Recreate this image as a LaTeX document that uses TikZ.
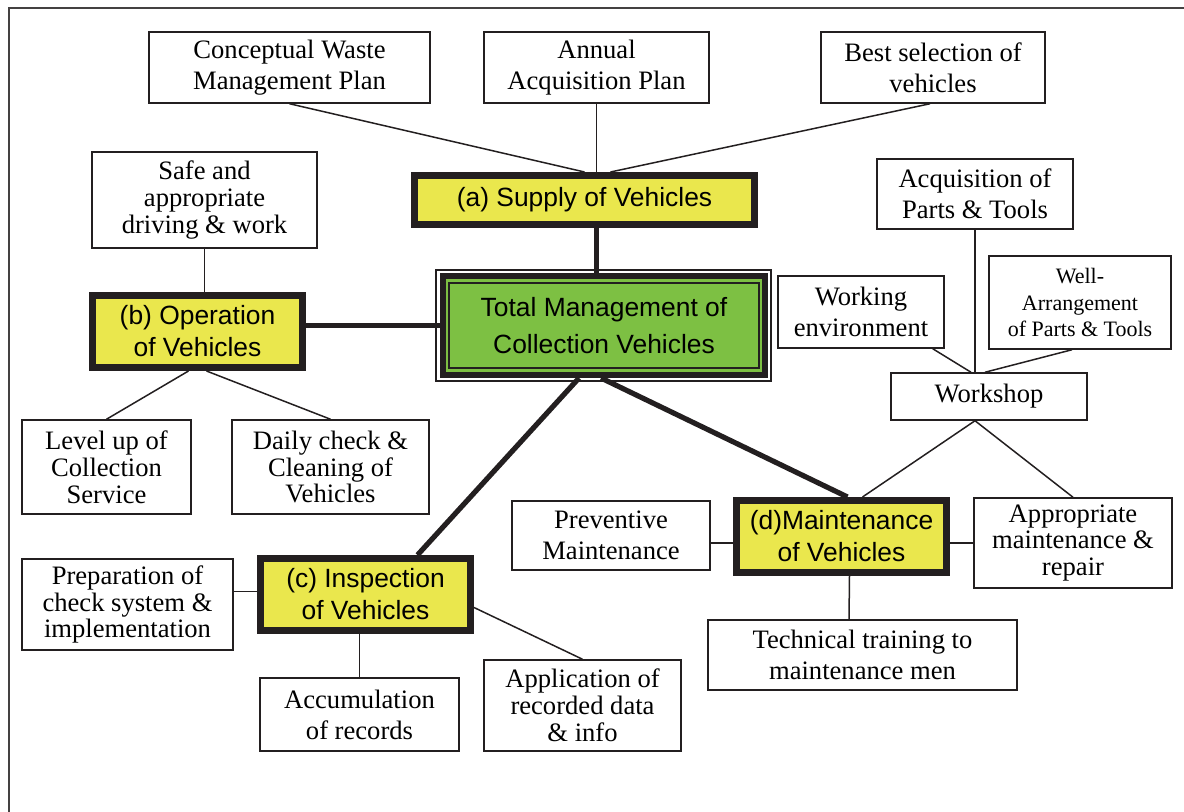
\documentclass[tikz,border=0pt]{standalone}
\usepackage{fontspec}
\setmainfont{Liberation Serif}
\setsansfont{Liberation Sans}
\usetikzlibrary{calc,backgrounds}

\definecolor{boxyellow}{RGB}{234,231,77}
\definecolor{boxgreen}{RGB}{125,192,67}
\definecolor{ink}{RGB}{35,31,32}

\tikzset{
  % place a rectangle node by its corners (x1,y1) (x2,y2), in picture units
  span/.style n args={4}{
    minimum width={(#3-#1)*0.5pt}, minimum height={(#4-#2)*0.5pt},
    at={({(#1+#3)/2},{(#2+#4)/2})}},
  plainbox/.style={draw=ink, line width=0.75pt, fill=white, inner sep=0pt,
    align=center, text=black, font=\fontsize{13.3}{15.5}\selectfont},
  tightlines/.style={font=\fontsize{13.3}{13.4}\selectfont},
  smalltext/.style={font=\fontsize{11}{13.2}\selectfont},
  keybox/.style={draw=ink, line width=3.5pt, fill=boxyellow, inner sep=0pt,
    align=center, text=black, font=\sffamily\fontsize{13.2}{16}\selectfont},
  link/.style={draw=ink, line width=0.75pt},
  heavy/.style={draw=ink, line width=2.6pt},
  frameline/.style={draw=ink!85, line width=0.8pt}
}

\begin{document}
\begin{tikzpicture}[x=0.5pt, y=-0.5pt]
\useasboundingbox (0,0) rectangle (1184,812);

% page frame, running off the right and bottom edges
\begin{scope}
  \clip (0,0) rectangle (1184,812);
  \path[frameline] (9,8) rectangle (1210,840);
\end{scope}

% central node: thin outer line, heavy black frame, green field with inner line
\node[draw=ink, line width=0.7pt, inner sep=0pt, span={436}{270}{771}{381}] (tm) {};
\node[draw=ink, line width=3pt, fill=boxgreen, inner sep=0pt, span={443}{276}{765}{375}] (tmk) {};
\node[draw=ink, line width=0.8pt, inner sep=0pt, align=center,
      font=\sffamily\fontsize{13.2}{18.5}\selectfont, span={449}{283}{759}{368}] (tmi)
      {Total Management of\\Collection Vehicles};

% (a) supply
\node[plainbox, span={149}{32}{430}{103}] (cwmp) {Conceptual Waste\\Management Plan};
\node[plainbox, span={484}{32}{709}{103}] (aap) {Annual\\Acquisition Plan};
\node[plainbox, span={821}{32}{1045}{103}] (bsv) {Best selection of\\vehicles};
\node[keybox, span={414.5}{175.5}{754.5}{224.5}] (sup) {(a) Supply of Vehicles};

% (b) operation
\node[plainbox, tightlines, span={92}{152}{317}{248}] (safe) {Safe and\\appropriate\\driving \& work};
\node[keybox, span={92.5}{295.5}{302.5}{367.5}] (op) {(b) Operation\\of Vehicles};
\node[plainbox, tightlines, span={22}{420}{191}{514}] (lvl) {Level up of\\Collection\\Service};
\node[plainbox, tightlines, span={232}{420}{429}{514}] (daily) {Daily check \&\\Cleaning of\\Vehicles};

% workshop group
\node[plainbox, span={877}{159}{1073}{229}] (acq) {Acquisition of\\Parts \& Tools};
\node[plainbox, span={778}{276}{944}{348}] (work) {Working\\environment};
\node[plainbox, smalltext, span={989}{256}{1171}{349}] (well) {Well-\\Arrangement\\of Parts \& Tools};
\node[plainbox, span={891}{373}{1087}{420}] (shop) {Workshop};

% (d) maintenance
\node[keybox, span={736.5}{500.5}{946.5}{572.5}] (maint) {(d)Maintenance\\of Vehicles};
\node[plainbox, span={512}{501}{710}{570}] (prev) {Preventive\\Maintenance};
\node[plainbox, tightlines, span={974}{498}{1172}{588}] (appr) {Appropriate\\maintenance \&\\repair};
\node[plainbox, span={708}{620}{1017}{690}] (tech) {Technical training to\\maintenance men};

% (c) inspection
\node[keybox, span={260.5}{558.5}{470.5}{630.5}] (insp) {(c) Inspection\\of Vehicles};
\node[plainbox, tightlines, span={22}{559}{233}{650}] (prep) {Preparation of\\check system \&\\implementation};
\node[plainbox, span={260}{678}{459}{751}] (accu) {Accumulation\\of records};
\node[plainbox, tightlines, span={484}{660}{681}{751}] (appl) {Application of\\recorded data\\\& info};

% connectors, kept behind the boxes
\begin{scope}[on background layer]
  % supply branch
  \draw[link] (cwmp.south) -- (sup.north);
  \draw[link] (aap.south) -- (aap.south |- sup.north);
  \draw[link] ($(bsv.south)+(-3,0)$) -- ($(sup.north)+(26,0)$);
  \draw[heavy] (aap.south |- sup.south) -- (aap.south |- tmk.north);

  % operation branch
  \draw[link] (safe.south) -- (safe.south |- op.north);
  \draw[heavy] (op.east |- tmk.west) -- (tmk.west);
  \draw[link] ($(op.south)+(-9,0)$) -- (lvl.north);
  \draw[link] ($(op.south)+(9,0)$) -- (daily.north);

  % inspection branch
  \draw[heavy] ($(tmk.south)+(-25,0)$) -- ($(insp.north)+(52,0)$);
  \draw[link] ($(prep.east |- insp.west)+(0,-3)$) -- ($(insp.west)+(0,-3)$);
  \draw[link] (accu.north) -- (accu.north |- insp.south);
  \draw[link] ($(insp.east)+(0,13)$) -- (appl.north);

  % maintenance branch
  \draw[heavy] ($(tmk.south)+(-3,0)$) -- ($(maint.north)+(6,0)$);
  \draw[link] (prev.east |- appr.west) -- (maint.west |- appr.west);
  \draw[link] (maint.east |- appr.west) -- (appr.west);
  \draw[link] ($(tech.north)+(-13.5,0)$) -- ($(maint.south)+(8,0)$);

  % workshop group
  \draw[link] (acq.south) -- (acq.south |- shop.north);
  \draw[link] ($(work.south east)+(-12,0)$) -- ($(shop.north)+(-18,0)$);
  \draw[link] ($(well.south)+(-8,0)$) -- ($(shop.north)+(-4,0)$);
  \draw[link] ($(shop.south)+(-14,0)$) -- ($(maint.north)+(21,0)$);
  \draw[link] ($(shop.south)+(-14,0)$) -- (appr.north);
\end{scope}
\end{tikzpicture}
\end{document}
